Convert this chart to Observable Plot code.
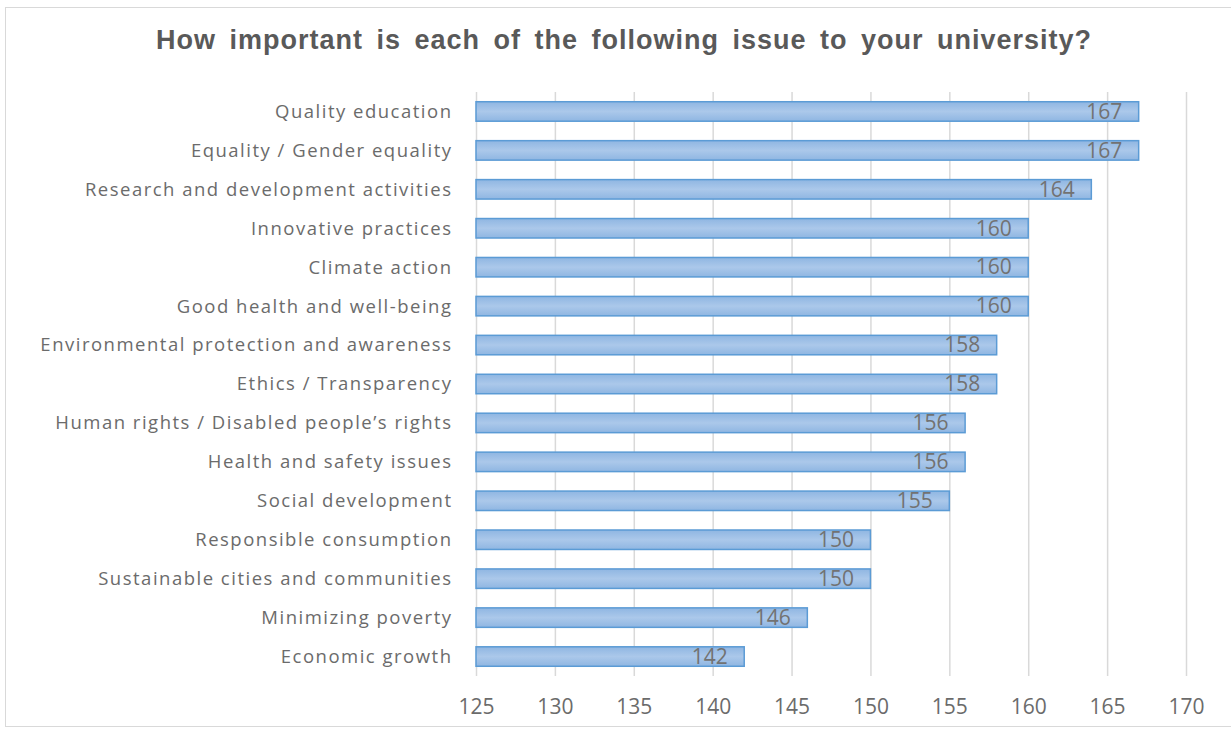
<!DOCTYPE html>
<html>
<head>
<meta charset="utf-8">
<script src="https://cdn.jsdelivr.net/npm/d3@7"></script>
<script src="https://cdn.jsdelivr.net/npm/@observablehq/plot@0.6"></script>
<style>
  html, body { margin: 0; padding: 0; background: #fff; }
  #frame { position: absolute; left: 5px; top: 7px; width: 1240px; height: 720px; border: 1px solid #d9d9d9; box-sizing: border-box; }
  #title { position: absolute; left: 0; top: 25px; width: 1248px; text-align: center; font-family: "Liberation Sans", Arial, sans-serif; font-weight: bold; font-size: 27px; color: #595959; letter-spacing: 1px; word-spacing: 5px; }
  #chart { position: absolute; left: 0; top: 70px; }
  #chart svg .ylab text { letter-spacing: 1.5px; }
</style>
</head>
<body>
<div id="frame"></div>
<div id="title">How important is each of the following issue to your university?</div>
<div id="chart"></div>
<script>
const categories = [
  "Quality education",
  "Equality / Gender equality",
  "Research and development activities",
  "Innovative practices",
  "Climate action",
  "Good health and well-being",
  "Environmental protection and awareness",
  "Ethics / Transparency",
  "Human rights / Disabled people’s rights",
  "Health and safety issues",
  "Social development",
  "Responsible consumption",
  "Sustainable cities and communities",
  "Minimizing poverty",
  "Economic growth"
];
const values = [167, 167, 164, 160, 160, 160, 158, 158, 156, 156, 155, 150, 150, 146, 142];
const xTicks = [125, 130, 135, 140, 145, 150, 155, 160, 165, 170];
const xDomain = [125, 170];

const data = categories.map((c, i) => ({category: c, value: values[i], base: xDomain[0]}));

const chart = Plot.plot({
  width: 1231,
  height: 661,
  marginLeft: 476,
  marginRight: 45,
  marginTop: 22,
  marginBottom: 55,
  style: { fontFamily: "'Open Sans', sans-serif", color: "#595959", background: "transparent" },
  x: { domain: xDomain, ticks: xTicks, label: null },
  y: { domain: categories, label: null, paddingInner: 0.5, paddingOuter: 0.25, round: false },
  marks: [
    Plot.gridX(xTicks, { stroke: "#d9d9d9", strokeOpacity: 1, strokeWidth: 1.5 }),
    Plot.barX(data, { y: "category", x1: "base", x2: "value", fill: "url(#barGrad)", stroke: "#5b9bd5", strokeWidth: 1.5 }),
    Plot.text(data, { y: "category", x: "value", text: d => String(d.value), textAnchor: "end", dx: -17, fill: "#727272", fontSize: 21 }),
    Plot.axisX({ ticks: xTicks, tickSize: 0, tickPadding: 23, fontSize: 21, label: null, fill: "#6b6b6b" }),
    Plot.axisY({ tickSize: 0, tickPadding: 24, fontSize: 18.5, label: null, fill: "#6b6b6b", className: "ylab" })
  ]
});

const ns = "http://www.w3.org/2000/svg";
const defs = document.createElementNS(ns, "defs");
defs.innerHTML = `<linearGradient id="barGrad" x1="0" y1="0" x2="0" y2="1">
  <stop offset="0" stop-color="#8fb6e2"/>
  <stop offset="0.5" stop-color="#abc8ea"/>
  <stop offset="1" stop-color="#8fb6e2"/>
</linearGradient>`;
chart.insertBefore(defs, chart.firstChild);
document.getElementById("chart").appendChild(chart);
</script>
</body>
</html>
